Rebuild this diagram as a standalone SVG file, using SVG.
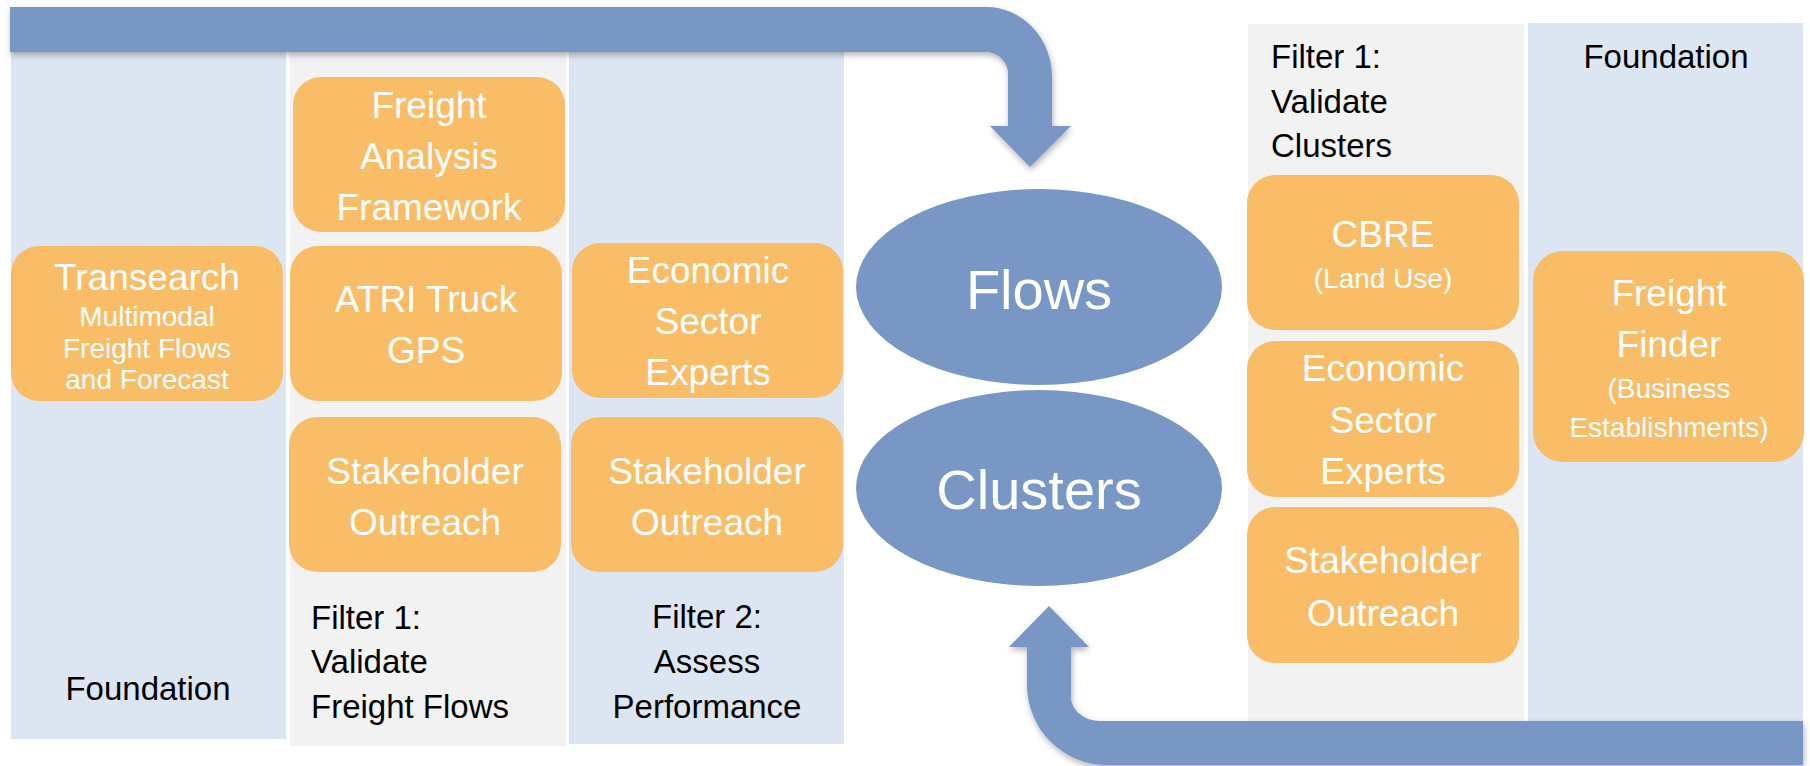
<svg xmlns="http://www.w3.org/2000/svg" width="1810" height="766" viewBox="0 0 1810 766">
<style>
.colb{fill:#DCE6F2}
.colg{fill:#F2F2F2}
.box{fill:#F9BD67}
.ell{fill:#7897C5}
.arr{fill:#7897C5}
text{font-family:"Liberation Sans",Arial,sans-serif}
.w{fill:#FFFFFF;font-size:37px;text-anchor:middle}
.ws{fill:#FFFFFF;font-size:28px;text-anchor:middle}
.big{fill:#FFFFFF;font-size:56px;text-anchor:middle}
.k{fill:#000000;font-size:33px}
.kc{fill:#000000;font-size:33px;text-anchor:middle}
</style>
<defs>
<filter id="sh" x="-5%" y="-20%" width="110%" height="150%">
<feDropShadow dx="1" dy="3" stdDeviation="3" flood-color="#000000" flood-opacity="0.3"/>
</filter>
</defs>
<rect width="1810" height="766" fill="#FFFFFF"/>
<g id="columns">
<rect id="col-foundation-left" class="colb" x="11" y="40" width="275" height="699"/>
<rect id="col-filter1-left" class="colg" x="290" y="40" width="276" height="706"/>
<rect id="col-filter2-left" class="colb" x="569" y="40" width="275" height="704"/>
<rect id="col-filter1-right" class="colg" x="1248" y="24" width="276" height="720"/>
<rect id="col-foundation-right" class="colb" x="1528" y="23" width="275" height="720"/>
</g>
<g id="labels">
<text class="kc" x="148" y="700">Foundation</text>
<text class="k" x="311" y="629">Filter 1:</text>
<text class="k" x="311" y="673">Validate</text>
<text class="k" x="311" y="718">Freight Flows</text>
<text class="kc" x="707" y="628">Filter 2:</text>
<text class="kc" x="707" y="673">Assess</text>
<text class="kc" x="707" y="718">Performance</text>
<text class="k" x="1271" y="68">Filter 1:</text>
<text class="k" x="1271" y="113">Validate</text>
<text class="k" x="1271" y="157">Clusters</text>
<text class="kc" x="1666" y="68">Foundation</text>
</g>
<g id="connectors">
<path id="arrow-top" class="arr" filter="url(#sh)" d="M10,7 H986 A66,70 0 0 1 1052,77 V126 H1071 L1030,167 L990,126 H1008 V74 A22,22 0 0 0 986,52 H10 Z"/>
<path id="arrow-bottom" class="arr" filter="url(#sh)" d="M1803,721 H1100 A29,24 0 0 1 1071,697 V647 H1089 L1049,606 L1009,647 H1027 V685 A80,80 0 0 0 1107,765 H1803 Z"/>
</g>
<g id="node-faf">
<rect class="box" x="293" y="77" width="272" height="155" rx="28"/>
<text class="w" x="429" y="118">Freight</text>
<text class="w" x="429" y="169">Analysis</text>
<text class="w" x="429" y="220">Framework</text>
</g>
<g id="node-transearch">
<rect class="box" x="11" y="246" width="272" height="155" rx="28"/>
<text class="w" x="147" y="290">Transearch</text>
<text class="ws" x="147" y="326">Multimodal</text>
<text class="ws" x="147" y="358">Freight Flows</text>
<text class="ws" x="147" y="389">and Forecast</text>
</g>
<g id="node-atri">
<rect class="box" x="290" y="246" width="272" height="155" rx="28"/>
<text class="w" x="426" y="312">ATRI Truck</text>
<text class="w" x="426" y="363">GPS</text>
</g>
<g id="node-econ-left">
<rect class="box" x="572" y="243" width="271" height="155" rx="28"/>
<text class="w" x="708" y="283">Economic</text>
<text class="w" x="708" y="334">Sector</text>
<text class="w" x="708" y="385">Experts</text>
</g>
<g id="node-stake-left1">
<rect class="box" x="289" y="417" width="272" height="155" rx="28"/>
<text class="w" x="425" y="484">Stakeholder</text>
<text class="w" x="425" y="535">Outreach</text>
</g>
<g id="node-stake-left2">
<rect class="box" x="571" y="417" width="272" height="155" rx="28"/>
<text class="w" x="707" y="484">Stakeholder</text>
<text class="w" x="707" y="535">Outreach</text>
</g>
<g id="node-flows">
<ellipse class="ell" cx="1039" cy="287" rx="183" ry="98"/>
<text class="big" x="1039" y="309">Flows</text>
</g>
<g id="node-clusters">
<ellipse class="ell" cx="1039" cy="488" rx="183" ry="98"/>
<text class="big" x="1039" y="509">Clusters</text>
</g>
<g id="node-cbre">
<rect class="box" x="1247" y="175" width="272" height="155" rx="28"/>
<text class="w" x="1383" y="247">CBRE</text>
<text class="ws" x="1383" y="288">(Land Use)</text>
</g>
<g id="node-econ-right">
<rect class="box" x="1247" y="341" width="272" height="156" rx="28"/>
<text class="w" x="1383" y="381">Economic</text>
<text class="w" x="1383" y="433">Sector</text>
<text class="w" x="1383" y="484">Experts</text>
</g>
<g id="node-stake-right">
<rect class="box" x="1247" y="507" width="272" height="156" rx="28"/>
<text class="w" x="1383" y="573">Stakeholder</text>
<text class="w" x="1383" y="626">Outreach</text>
</g>
<g id="node-freight-finder">
<rect class="box" x="1533" y="251" width="271" height="211" rx="30"/>
<text class="w" x="1669" y="306">Freight</text>
<text class="w" x="1669" y="357">Finder</text>
<text class="ws" x="1669" y="398">(Business</text>
<text class="ws" x="1669" y="437">Establishments)</text>
</g>
</svg>
